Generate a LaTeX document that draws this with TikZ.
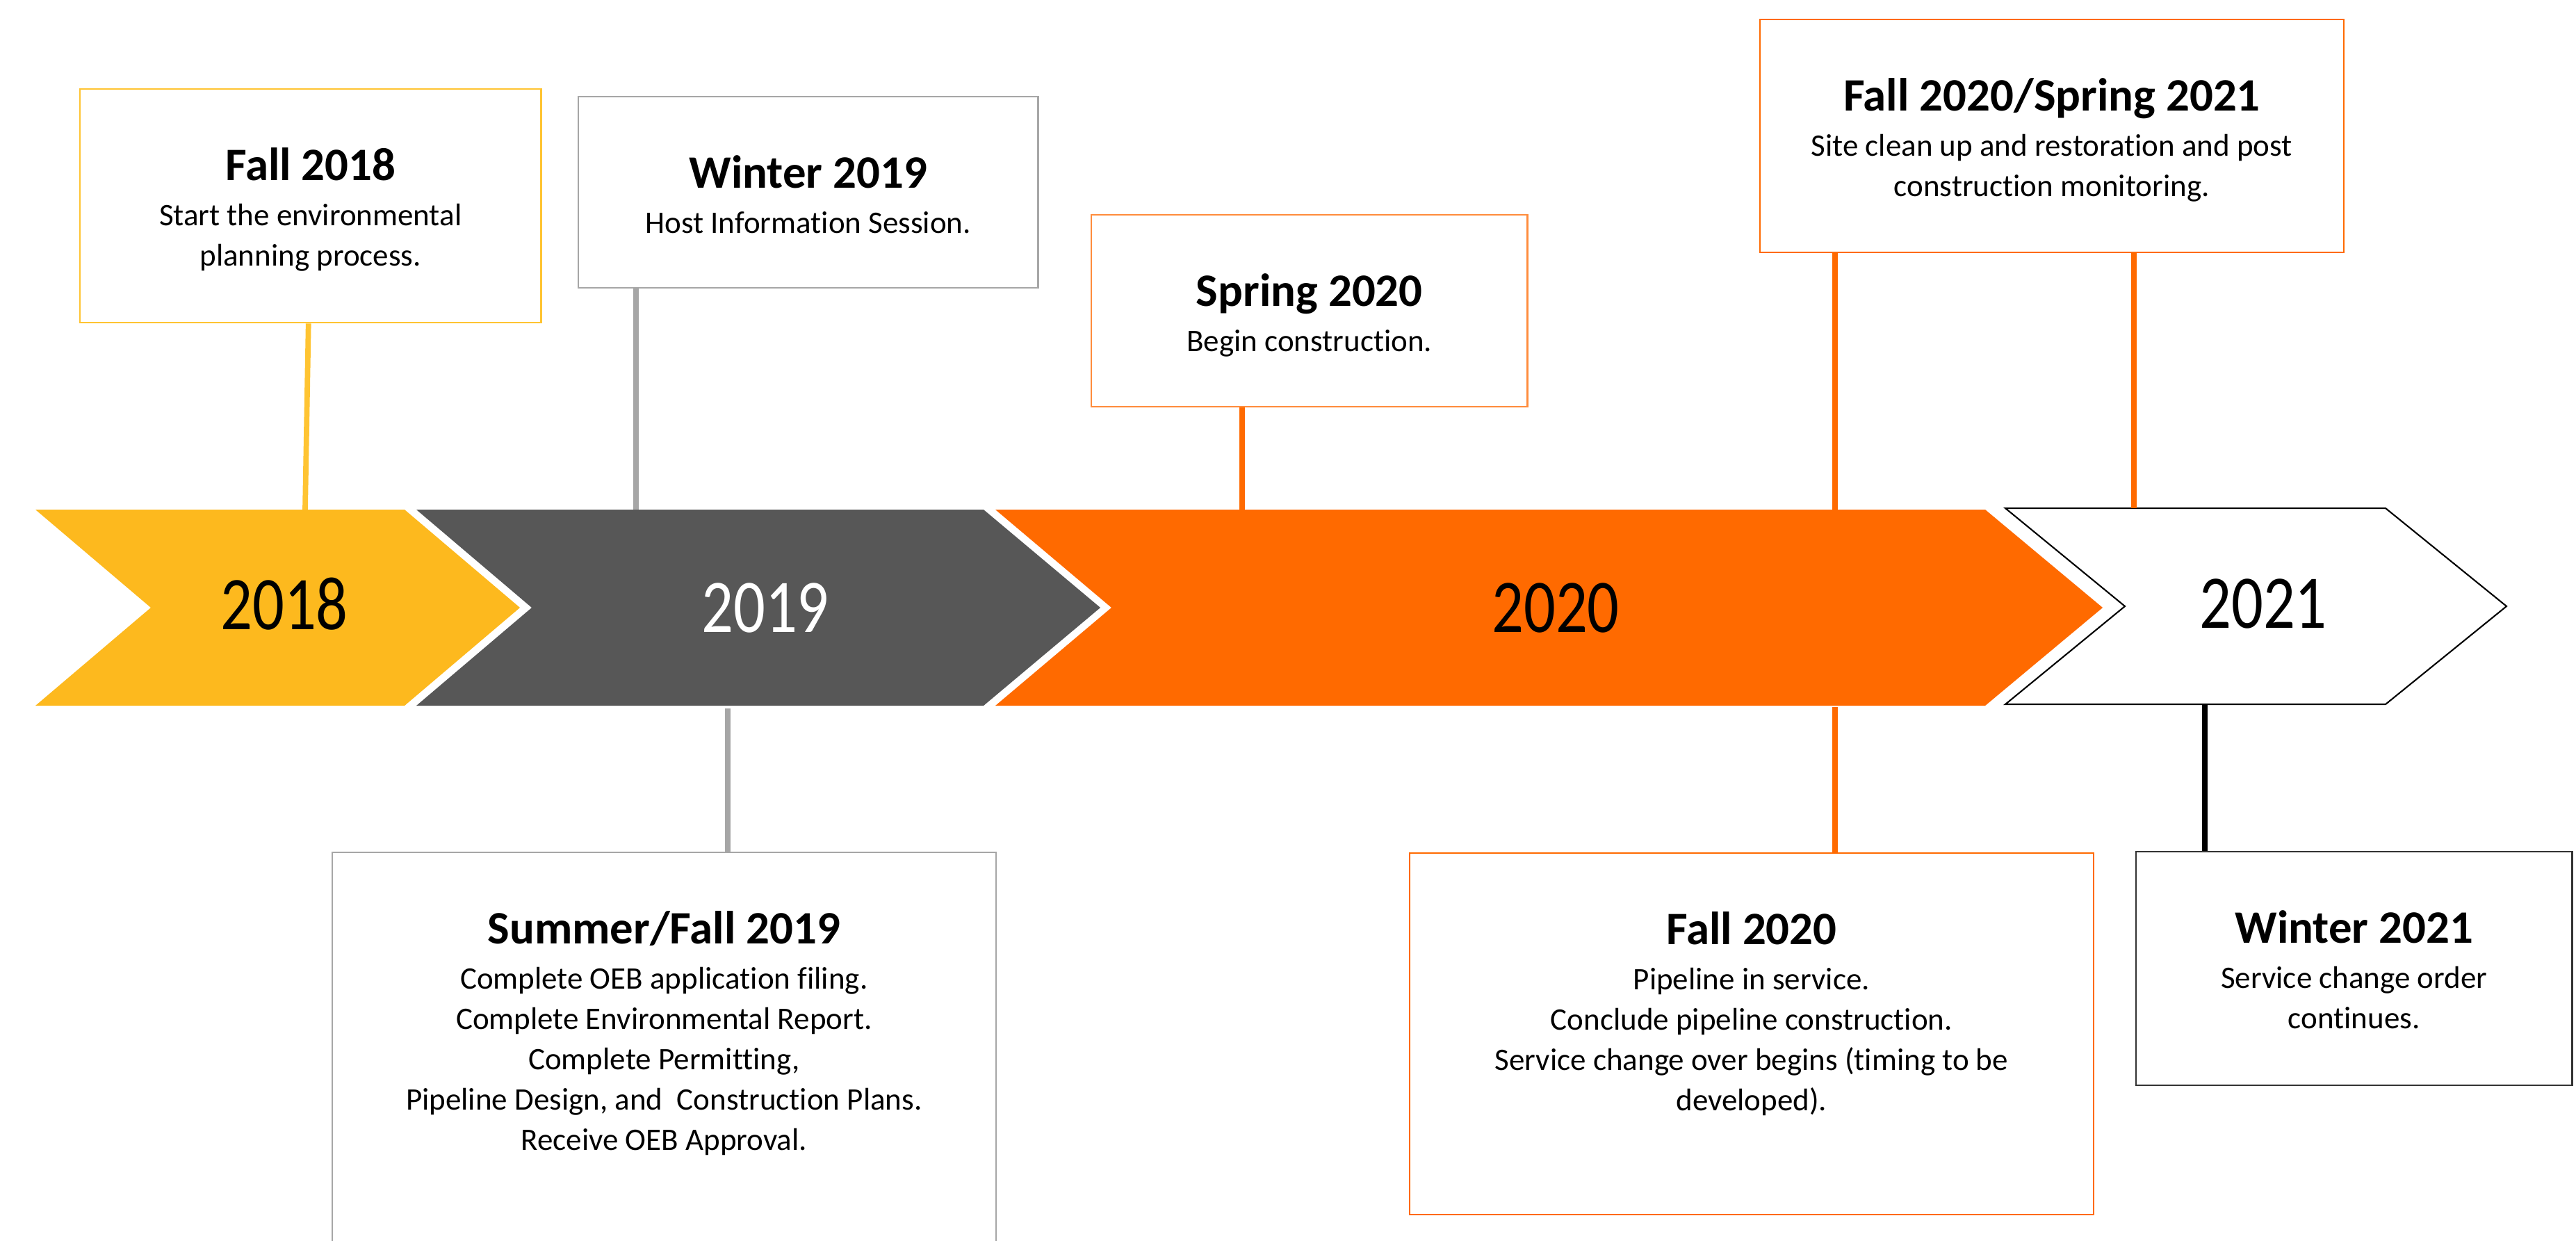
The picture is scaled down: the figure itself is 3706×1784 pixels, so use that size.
\documentclass[tikz,border=0pt]{standalone}
\usepackage{fontspec}
\setmainfont{Carlito}[Ligatures=NoCommon]
\usepackage{graphicx}
\usepackage{tikz}
\usetikzlibrary{positioning}
\definecolor{cyellow}{RGB}{253,185,30}
\definecolor{cgold}{RGB}{255,196,50}
\definecolor{cgray}{RGB}{87,87,87}
\definecolor{clgray}{RGB}{166,166,166}
\definecolor{corange}{RGB}{255,106,0}
\definecolor{clorange}{RGB}{255,140,60}
\newcommand{\ttl}[1]{{\bfseries\fontsize{19}{23}\selectfont #1}}
\newcommand{\yr}[1]{\scalebox{0.83}[1]{\fontsize{31}{31}\selectfont #1}}

\begin{document}
\begin{tikzpicture}[x=0.01cm,y=-0.01cm,
  box node/.style={draw,fill=white,line width=0.6pt,anchor=north west,inner sep=0},
  text node/.style={align=center,inner sep=0,font={\fontsize{12.8}{16.5}\selectfont}},
  year node/.style={inner sep=0},
  link/.style={line width=2.2pt}]
  \path[use as bounding box,fill=white] (0,0) rectangle (3706,1784);

  % the arrows of the years
  \fill[cyellow] (51,733) -- (582,733) -- (748,874) -- (582,1015) -- (51,1015) -- (217,874) -- cycle;
  \fill[cgray] (599,733) -- (1415,733) -- (1583,874) -- (1415,1015) -- (599,1015) -- (765,874) -- cycle;
  \fill[corange] (1432,733) -- (2856,733) -- (3025,874) -- (2856,1015) -- (1432,1015) -- (1599,874) -- cycle;
  \draw[fill=white,line width=0.6pt] (2885,731) -- (3432,731) -- (3606,872) -- (3432,1013) -- (2885,1013) -- (3057,872) -- cycle;

  \node[year node] (y18) at (409,869) {\yr{2018}};
  \node[year node,text=white] (y19) at (1101,874) {\yr{2019}};
  \node[year node] (y20) at (2238,874) {\yr{2020}};
  \node[year node] (y21) at (3256,868) {\yr{2021}};

  % ends of the links on the arrows
  \coordinate (a18) at (439,733);
  \coordinate (a19) at (915,733);
  \coordinate (b19) at (1047,1019);
  \coordinate (a20) at (1787,733);
  \coordinate (a20b) at (2640,733);
  \coordinate (a21) at (3070,731);
  \coordinate (b20) at (2640,1017);
  \coordinate (b21) at (3172,1013);

  % boxes above
  \node[box node,draw=cgold,minimum width=6.63cm,minimum height=3.36cm] (f18box) at (114,127) {};
  \node[box node,draw=clgray,minimum width=6.61cm,minimum height=2.75cm] (w19box) at (831,138) {};
  \node[box node,draw=clorange,minimum width=6.27cm,minimum height=2.76cm] (s20box) at (1569,308) {};
  \node[box node,draw=corange,minimum width=8.39cm,minimum height=3.35cm] (f2021box) at (2531,27) {};
  % boxes below
  \node[box node,draw=clgray,minimum width=9.54cm,minimum height=6cm] (sf19box) at (477,1225) {};
  \node[box node,draw=corange,minimum width=9.83cm,minimum height=5.2cm] (f20box) at (2027,1226) {};
  \node[box node,draw=black!80,minimum width=6.27cm,minimum height=3.36cm] (w21box) at (3072,1224) {};

  \node[text node,below=0.85cm of f18box.north] (f18txt) {\ttl{Fall 2018}\\[2pt]
    Start the environmental\\ planning process.};
  \node[text node,below=0.85cm of w19box.north] (w19txt) {\ttl{Winter 2019}\\[2pt]
    Host Information Session.};
  \node[text node,below=0.85cm of s20box.north] (s20txt) {\ttl{Spring 2020}\\[2pt]
    Begin construction.};
  \node[text node,below=0.85cm of f2021box.north] (f2021txt) {\ttl{Fall 2020/Spring 2021}\\[2pt]
    Site clean up and restoration and post\\ construction monitoring.};
  \node[text node,below=0.85cm of sf19box.north] (sf19txt) {\ttl{Summer/Fall 2019}\\[2pt]
    Complete OEB application filing.\\ Complete Environmental Report.\\
    Complete Permitting,\\ Pipeline Design, and\ \ Construction Plans.\\ Receive OEB Approval.};
  \node[text node,below=0.85cm of f20box.north] (f20txt) {\ttl{Fall 2020}\\[2pt]
    Pipeline in service.\\ Conclude pipeline construction.\\
    Service change over begins (timing to be\\ developed).};
  \node[text node,below=0.85cm of w21box.north] (w21txt) {\ttl{Winter 2021}\\[2pt]
    Service change order\\ continues.};

  \path[link,draw=cgold] (f18box) edge (a18);
  \path[link,draw=clgray]
    (a19 |- w19box.south) edge (a19)
    (b19) edge (b19 |- sf19box.north);
  \path[link,draw=corange]
    (a20 |- s20box.south) edge (a20)
    (a20b |- f2021box.south) edge (a20b)
    (a21 |- f2021box.south) edge (a21)
    (b20) edge (b20 |- f20box.north);
  \path[link,draw=black] (b21) edge (b21 |- w21box.north);
\end{tikzpicture}
\end{document}
